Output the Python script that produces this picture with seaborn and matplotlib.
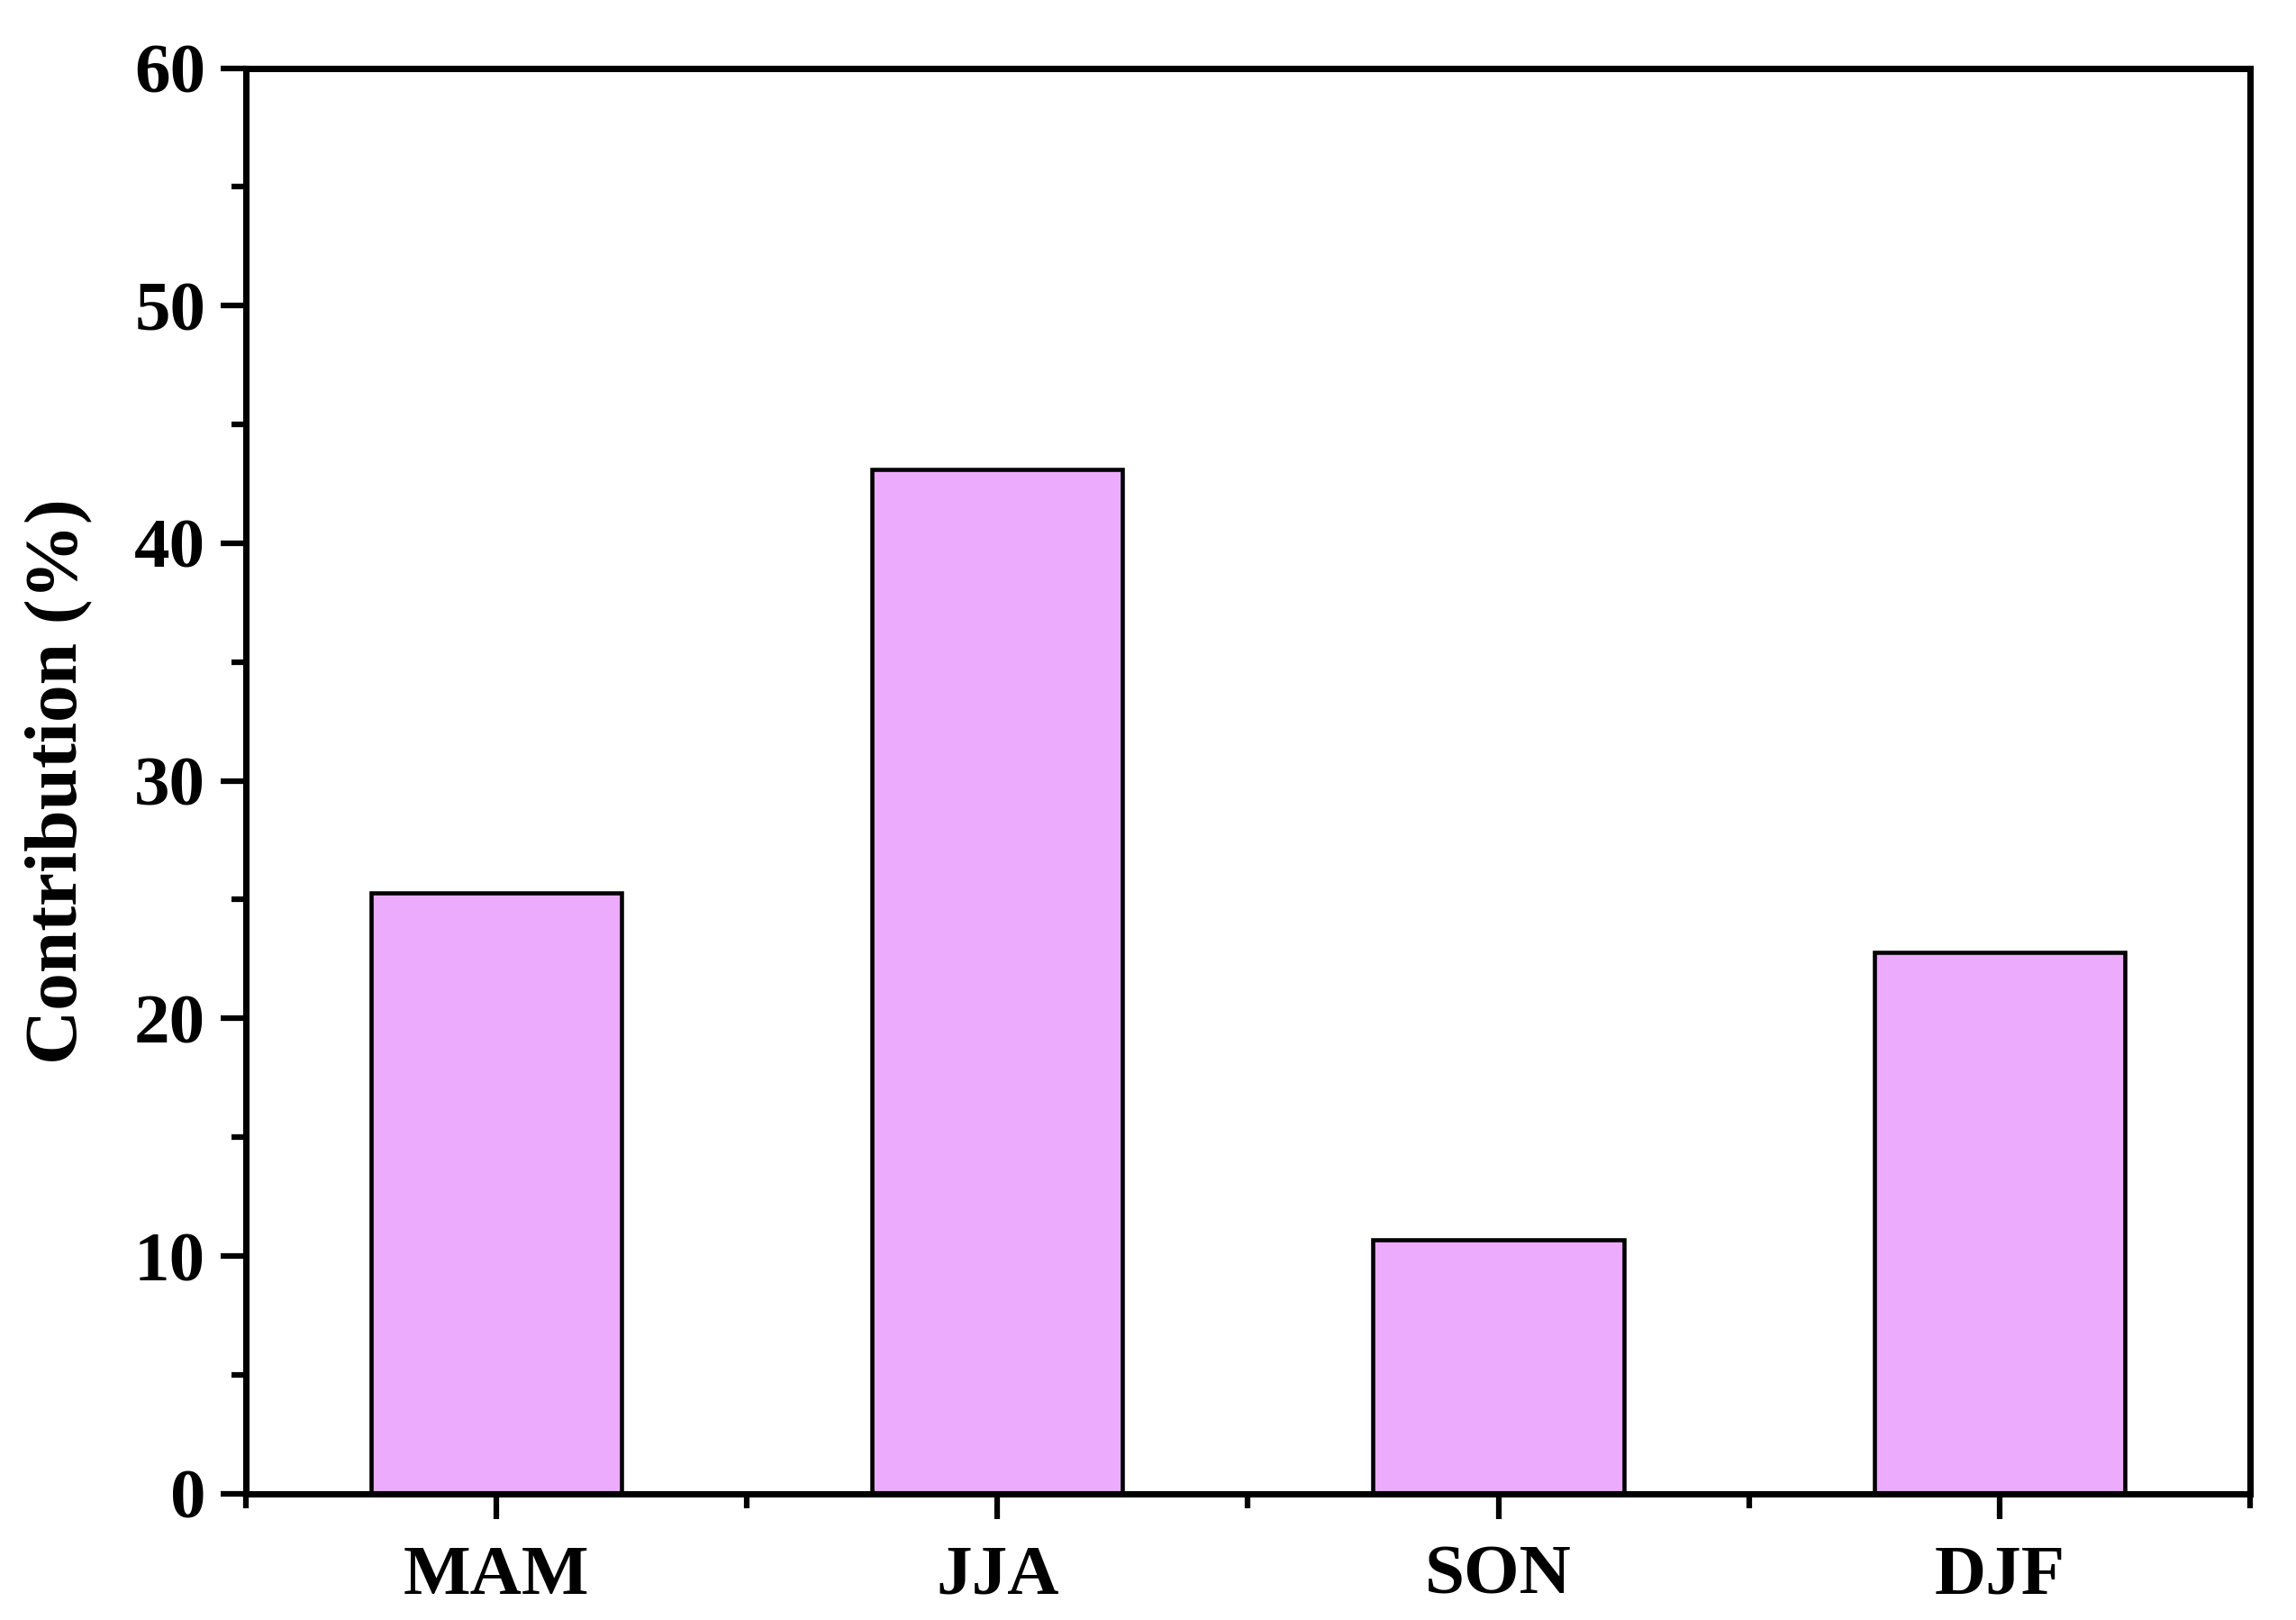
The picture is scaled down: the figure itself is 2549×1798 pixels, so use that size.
import matplotlib
matplotlib.use("Agg")
import matplotlib.pyplot as plt
import seaborn as sns
import pandas as pd
from matplotlib.ticker import MultipleLocator, FixedLocator

# seasonal contributions (%)
seasons = ["MAM", "JJA", "SON", "DJF"]
contribution = [25.3, 43.1, 10.7, 22.8]

df = pd.DataFrame({"Season": seasons, "Contribution": contribution})

sns.set_style("ticks")
plt.rcParams['font.family'] = ['Liberation Serif', 'DejaVu Serif']
plt.rcParams['font.weight'] = 'bold'
plt.rcParams['text.color'] = 'black'
plt.rcParams['axes.labelcolor'] = 'black'

fig = plt.figure(figsize=(2549 / 300, 1798 / 300), dpi=300)
ax = fig.add_axes([0.107, 0.078, 0.873, 0.880])

sns.barplot(data=df, x="Season", y="Contribution", order=seasons,
            color="#ecabfc", saturation=1, width=0.5,
            edgecolor="black", linewidth=1.1, ax=ax)

ax.set_xlim(-0.5, 3.5)
ax.set_ylim(0, 60)
ax.yaxis.set_major_locator(MultipleLocator(10))
ax.yaxis.set_minor_locator(MultipleLocator(5))
ax.xaxis.set_minor_locator(FixedLocator([-0.5, 0.5, 1.5, 2.5, 3.5]))

for side in ["top", "right", "bottom", "left"]:
    ax.spines[side].set_visible(True)
    ax.spines[side].set_linewidth(1.7)
    ax.spines[side].set_color("black")

ax.tick_params(axis="both", which="major", direction="out", length=6.7, width=1.5,
               labelsize=19, pad=4, colors="black")
ax.tick_params(axis="both", which="minor", direction="out", length=3.8, width=1.5,
               colors="black")
ax.tick_params(axis="x", which="major", pad=7)
ax.tick_params(top=False, right=False, which="both")

for lbl in ax.get_xticklabels() + ax.get_yticklabels():
    lbl.set_fontweight("bold")

ax.set_xlabel("")
ax.set_ylabel("Contribution (%)", fontsize=20, fontweight="bold", labelpad=11,
              color="black")

fig.savefig("out.png", dpi=300)
